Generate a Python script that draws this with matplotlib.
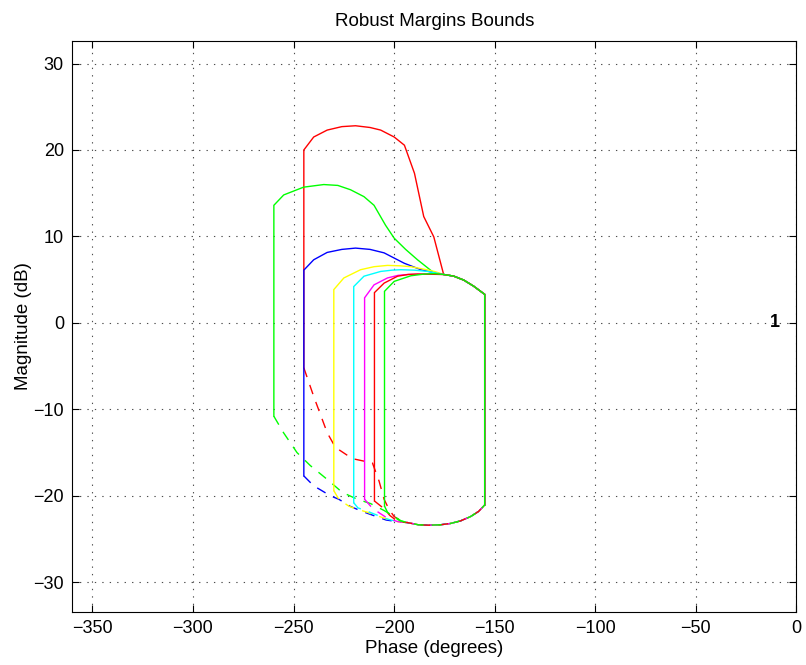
"""
Robust margins bounds (QFT style) plotted on a Nichols-type chart
"""

import matplotlib.pyplot as plt

plt.rcParams['font.family'] = ['Liberation Sans', 'DejaVu Sans']

# colour of each bound, drawn in this order (MATLAB r g b y c m)
bound_colors = ['#ff0000', '#00ff00', '#0000ff', '#ffff00', '#00ffff', '#ff00ff', '#ff0000', '#00ff00']

# solid upper part of each bound (phase in degrees, magnitude in dB)
upper_phase = [
    [-244.9, -244.9, -240.0, -233.3, -226.0, -219.2, -212.0, -206.7, -200.0, -194.9, -189.9, -185.3, -180.3, -175.4],
    [-259.8, -259.8, -254.9, -245.0, -235.0, -228.0, -221.7, -215.0, -210.0, -204.3, -200.0, -194.3, -188.4, -180.3, -175.4],
    [-244.9, -244.9, -240.0, -233.3, -226.0, -219.2, -212.0, -205.0, -195.0, -186.7, -180.0, -175.4],
    [-230.0, -230.0, -225.0, -216.7, -210.0, -203.3, -197.0, -191.7, -185.0, -180.0, -175.4],
    [-220.1, -220.1, -215.0, -206.7, -201.0, -196.7, -190.0, -183.3, -175.4],
    [-214.7, -214.7, -210.0, -203.3, -198.0, -193.3, -185.0, -175.4],
    [-209.8, -209.8, -205.0, -198.3, -193.0, -188.3, -175.4],
    [-204.8, -204.8, -200.0, -191.7, -185.0, -180.0, -175.4],
]
upper_mag = [
    [-5.2, 20.0, 21.5, 22.3, 22.7, 22.8, 22.6, 22.3, 21.5, 20.55, 17.3, 12.3, 9.95, 5.6],
    [-10.8, 13.6, 14.8, 15.7, 16.0, 15.9, 15.4, 14.6, 13.6, 11.3, 9.8, 8.5, 7.3, 5.8, 5.6],
    [-17.7, 6.1, 7.3, 8.15, 8.5, 8.65, 8.5, 8.1, 6.9, 6.15, 5.8, 5.6],
    [-19.4, 3.85, 5.2, 6.15, 6.5, 6.65, 6.6, 6.5, 6.2, 5.95, 5.6],
    [-20.8, 4.2, 5.4, 5.95, 6.1, 6.15, 6.1, 5.95, 5.6],
    [-20.4, 2.9, 4.4, 5.2, 5.5, 5.6, 5.65, 5.6],
    [-20.6, 3.5, 4.6, 5.4, 5.6, 5.65, 5.6],
    [-21.2, 3.65, 4.8, 5.45, 5.65, 5.7, 5.6],
]

# right-hand part shared by all bounds (solid)
right_phase = [-170.4, -165.4, -160.5, -155.0, -155.0]
right_mag = [5.41, 4.95, 4.25, 3.3, -21.06]

# dashed lower part of each bound, left to right
lower_phase = [
    [-244.9, -240.0, -233.3, -229.2, -220.8, -210.8, -207.5, -205.0, -202.5, -200.0, -196.5],
    [-259.8, -255.0, -248.3, -241.7, -233.3, -225.8, -218.3, -211.7, -205.0, -200.0, -196.5],
    [-244.9, -240.0, -236.7, -231.7, -227.5, -222.0, -216.0, -210.0, -204.0, -198.0],
    [-230.0, -227.5, -222.5, -219.2, -213.3, -210.0, -203.3, -198.0],
    [-220.1, -218.0, -214.2, -210.0, -203.3, -198.0],
    [-214.7, -211.7, -209.2, -203.3, -198.0],
    [-209.8, -205.5, -202.0, -198.0],
    [-204.8, -203.3, -200.0, -197.0],
]
lower_mag = [
    [-5.2, -8.5, -12.7, -14.4, -15.7, -16.2, -18.3, -20.4, -21.6, -22.4, -22.9],
    [-10.8, -12.7, -15.0, -16.5, -18.1, -19.6, -20.4, -20.9, -21.7, -22.4, -22.9],
    [-17.7, -18.85, -19.3, -20.0, -20.4, -21.2, -21.8, -22.3, -22.8, -23.0],
    [-19.4, -20.4, -21.2, -21.5, -21.9, -22.2, -22.7, -23.0],
    [-20.8, -21.4, -21.7, -22.1, -22.7, -23.0],
    [-20.4, -21.2, -21.7, -22.6, -23.0],
    [-20.6, -21.4, -22.3, -23.0],
    [-21.2, -21.9, -22.5, -22.9],
]

# bottom arc shared by all bounds (dashed)
bottom_phase = [-193.3, -188.0, -183.0, -177.0, -172.0, -167.0, -162.0, -158.0, -155.0]
bottom_mag = [-23.1, -23.35, -23.4, -23.35, -23.2, -22.9, -22.4, -21.8, -21.06]

x_ticks = [-350, -300, -250, -200, -150, -100, -50, 0]
y_ticks = [-30, -20, -10, 0, 10, 20, 30]

fig = plt.figure(figsize=(8.06, 6.65), dpi=100)
ax = fig.add_axes([0.0897, 0.0802, 0.8985, 0.8581])

for k, col in enumerate(bound_colors):
    ax.plot(upper_phase[k] + right_phase, upper_mag[k] + right_mag,
            color=col, lw=1.0, solid_joinstyle='miter')
    ax.plot(lower_phase[k] + bottom_phase, lower_mag[k] + bottom_mag,
            color=col, lw=1.0, dashes=(7, 6))

# frequency label
ax.text(-10.7, 0, '1', fontsize=13, fontweight='bold', ha='center', va='center')

ax.set_xlim(-360, 0)
ax.set_ylim(-33.4, 32.6)
ax.set_xticks(x_ticks)
ax.set_yticks(y_ticks)

ax.grid(True, color='0.3', lw=0.8, linestyle=(0, (1.2, 5.5)))
ax.tick_params(direction='in', length=5, width=0.8, top=True, right=True,
               labelsize=13, pad=6)
for sp in ax.spines.values():
    sp.set_linewidth(0.8)

ax.set_title('Robust Margins Bounds', fontsize=13.5, pad=11)
ax.set_xlabel('Phase (degrees)', fontsize=13.5, labelpad=2)
ax.set_ylabel('Magnitude (dB)', fontsize=13.5, labelpad=1)

plt.savefig('out.png', dpi=100)
